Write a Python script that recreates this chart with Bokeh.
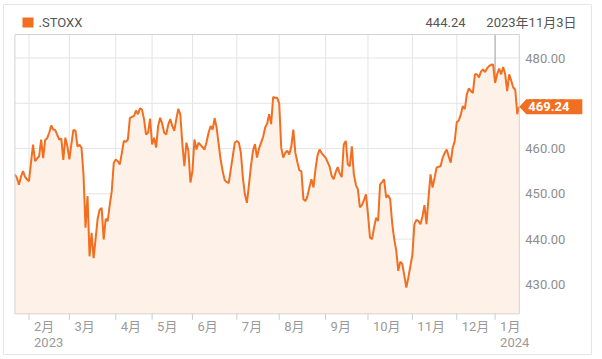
import pandas as pd
from bokeh.plotting import figure
from bokeh.models import ColumnDataSource, Range1d
from bokeh.embed import file_html
from bokeh.resources import INLINE
from bokeh.core.properties import value

# ---------------- data ----------------
symbol = ".STOXX"
hover_value = "444.24"
hover_date = "2023年11月3日"

y_ticks = [430, 440, 450, 460, 470, 480]
y_lo, y_hi = 423.5, 485.2          # visible value range of the chart area

trade_days = {
    "2023-01": [23, 24, 25, 26, 27, 30, 31],
    "2023-02": [1, 2, 3, 6, 7, 8, 9, 10, 13, 14, 15, 16, 17, 20, 21, 22, 23, 24, 27, 28],
    "2023-03": [1, 2, 3, 6, 7, 8, 9, 10, 13, 14, 15, 16, 17, 20, 21, 22, 23, 24, 27, 28, 29, 30, 31],
    "2023-04": [3, 4, 5, 6, 11, 12, 13, 14, 17, 18, 19, 20, 21, 24, 25, 26, 27, 28],
    "2023-05": [2, 3, 4, 5, 8, 9, 10, 11, 12, 15, 16, 17, 19, 22, 23, 24, 25, 26, 30, 31],
    "2023-06": [1, 2, 5, 6, 7, 8, 9, 12, 13, 14, 15, 16, 19, 20, 21, 22, 23, 26, 27, 28, 29, 30],
    "2023-07": [3, 4, 5, 6, 7, 10, 11, 12, 13, 14, 17, 18, 19, 20, 21, 24, 25, 26, 27, 28, 31],
    "2023-08": [1, 2, 3, 4, 7, 8, 9, 10, 11, 14, 15, 16, 17, 18, 21, 22, 23, 24, 25, 28, 29, 30, 31],
    "2023-09": [1, 4, 5, 6, 7, 8, 11, 12, 13, 14, 15, 18, 19, 20, 21, 22, 25, 26, 27, 28, 29],
    "2023-10": [2, 3, 4, 5, 6, 9, 10, 11, 12, 13, 16, 17, 18, 19, 20, 23, 24, 25, 26, 27, 30, 31],
    "2023-11": [1, 2, 3, 6, 7, 8, 9, 10, 13, 14, 15, 16, 17, 20, 21, 22, 23, 24, 27, 28, 29, 30],
    "2023-12": [1, 4, 5, 6, 7, 8, 11, 12, 13, 14, 15, 18, 19, 20, 21, 22, 27, 28, 29],
    "2024-01": [2, 3, 4, 5, 8, 9, 10, 11, 12, 15, 16, 17, 18],
}

closes = {
    "2023-01": [454.3, 453.5, 452.0, 453.8, 455.0, 453.8, 453.2],
    "2023-02": [452.8, 457.0, 460.9, 457.2, 457.8, 458.3, 462.0, 457.9, 461.9, 462.3,
                463.5, 465.1, 464.2, 464.1, 463.0, 462.0, 462.2, 457.5, 462.4, 460.5],
    "2023-03": [457.6, 461.0, 464.1, 464.0, 460.5, 460.8, 460.2, 454.3, 442.5, 449.5,
                436.2, 441.4, 435.8, 440.0, 444.5, 446.5, 446.9, 439.9, 444.5, 444.0,
                447.5, 450.6, 456.8],
    "2023-04": [457.6, 457.2, 456.5, 459.0, 461.7, 461.5, 462.0, 466.8, 467.0, 467.2,
                468.4, 467.6, 468.9, 468.6, 466.5, 463.1, 463.5, 466.6],
    "2023-05": [460.9, 462.4, 460.2, 465.0, 466.8, 465.5, 463.5, 463.1, 465.3, 466.5,
                465.0, 463.9, 466.5, 468.8, 467.5, 461.0, 456.1, 461.3, 459.5, 452.5],
    "2023-06": [455.0, 462.0, 459.8, 461.3, 460.8, 460.3, 459.8, 461.5, 463.5, 465.0,
                464.2, 466.7, 464.6, 460.9, 457.5, 455.0, 453.0, 452.6, 452.4, 455.4,
                458.3, 461.3],
    "2023-07": [461.7, 461.3, 459.1, 453.5, 449.9, 448.0, 452.0, 456.1, 459.5, 461.0,
                458.0, 460.0, 461.3, 462.5, 464.6, 465.5, 467.6, 465.4, 471.4, 471.2,
                471.2],
    "2023-08": [470.0, 460.2, 458.0, 459.1, 459.5, 458.7, 460.5, 464.2, 459.1, 457.0,
                455.2, 455.0, 448.8, 448.4, 449.5, 451.5, 453.2, 451.4, 455.5, 458.5,
                459.8, 459.0, 458.5],
    "2023-09": [458.0, 457.0, 456.0, 454.0, 453.2, 454.8, 455.9, 454.5, 453.7, 460.9,
                461.7, 456.5, 456.1, 460.5, 454.3, 452.0, 451.0, 447.0, 447.5, 448.6,
                449.9],
    "2023-10": [445.5, 440.3, 440.0, 442.5, 444.7, 444.0, 452.1, 452.6, 453.2, 449.2,
                449.7, 448.8, 443.5, 440.0, 437.5, 433.0, 435.0, 434.5, 432.0, 429.3,
                431.5, 434.0],
    "2023-11": [436.5, 443.3, 444.24, 444.0, 443.3, 445.0, 447.5, 443.3, 449.1, 454.3,
                451.4, 453.5, 455.8, 456.0, 456.1, 458.0, 459.0, 459.8, 458.3, 456.9,
                460.2, 461.7],
    "2023-12": [465.8, 466.2, 467.5, 469.4, 468.7, 472.0, 473.3, 472.7, 472.3, 476.4,
                476.4, 475.7, 477.0, 477.5, 476.9, 477.7, 478.2, 478.5, 478.6],
    "2024-01": [474.5, 476.4, 477.7, 476.4, 478.0, 476.4, 472.7, 476.4, 475.0, 473.5,
                473.0, 467.6, 469.24],
}

# ---------------- build series ----------------
dates, vals = [], []
for m in trade_days:
    for d, v in zip(trade_days[m], closes[m]):
        dates.append(pd.Timestamp(f"{m}-{d:02d}"))
        vals.append(v)
n = len(vals)
idx = list(range(n))

month_idx, month_lbl, year_idx, year_lbl = [], [], [], []
for i in range(1, n):
    if dates[i].month != dates[i - 1].month:
        month_idx.append(i)
        month_lbl.append(f"{dates[i].month}月")
        if len(month_idx) == 1 or dates[i].month == 1:
            year_idx.append(i)
            year_lbl.append(str(dates[i].year))
jan_idx = [i for i in range(1, n) if dates[i].year != dates[i - 1].year][0]

# ---------------- layout (pixels) ----------------
W, H = 602, 359
L, R, T, B = 14.4, 518.8, 34.0, 313.3     # chart area in the canvas
ppx = (R - L) / (n - 1)
ppy = (B - T) / (y_hi - y_lo)

def X(px):
    return (px - L) / ppx

def Y(py):
    return y_hi - (py - T) / ppy

ORANGE = "#f26f21"
FILL = "#fdf1e8"
GRID = "#e4e4e4"
FONT = "Roboto, 'Noto Sans CJK JP'"

p = figure(width=W, height=H, x_range=Range1d(X(0), X(W)), y_range=Range1d(Y(H), Y(0)),
           toolbar_location=None, output_backend="svg", x_axis_type=None,
           y_axis_type=None, min_border=0, background_fill_color="white",
           border_fill_color="white")
p.grid.visible = False
p.outline_line_color = None

# card border
p.quad(left=[X(3)], right=[X(591)], top=[Y(4)], bottom=[Y(354)],
       fill_color=None, line_color="#e6e6e6", line_width=1)

# grid
p.segment(x0=month_idx, x1=month_idx, y0=[y_lo] * len(month_idx), y1=[y_hi] * len(month_idx),
          line_color=GRID, line_width=1)
p.segment(x0=[0] * len(y_ticks), x1=[n - 1] * len(y_ticks), y0=y_ticks, y1=y_ticks,
          line_color=GRID, line_width=1)
p.segment(x0=[jan_idx], x1=[jan_idx], y0=[y_lo], y1=[y_hi], line_color="#a6a6a6", line_width=1)

# series
src = ColumnDataSource(dict(x=idx, close=vals, base=[y_lo] * n))
p.varea(x="x", y1="base", y2="close", source=src, fill_color=FILL)
p.line(x="x", y="close", source=src, line_color=ORANGE, line_width=2)

# chart outline
p.quad(left=[0], right=[n - 1], bottom=[y_lo], top=[y_hi], fill_color=None,
       line_color="#d3d3d3", line_width=1)

# x ticks and labels
tick_len = 6 / ppy
p.segment(x0=month_idx, x1=month_idx, y0=[y_lo] * len(month_idx),
          y1=[y_lo - tick_len] * len(month_idx), line_color="#cccccc", line_width=1)
p.text(x=month_idx, y=[Y(325.5)] * len(month_idx), text=month_lbl, x_offset=5,
       text_align="left", text_baseline="middle", text_font=value(FONT),
       text_font_size=value("13px"), text_color="#9a9a9a")
p.text(x=year_idx, y=[Y(341.5)] * len(year_idx), text=year_lbl, x_offset=5,
       text_align="left", text_baseline="middle", text_font=value(FONT),
       text_font_size=value("13px"), text_color="#9a9a9a")

# y labels (right)
p.text(x=[n - 1] * len(y_ticks), y=y_ticks, text=[f"{t:.2f}" for t in y_ticks], x_offset=6,
       text_align="left", text_baseline="middle", text_font=value(FONT),
       text_font_size=value("13px"), text_color="#8e8e8e")

# header
p.quad(left=[X(22)], right=[X(33)], top=[Y(17)], bottom=[Y(27)], fill_color=ORANGE,
       line_color=None)
p.text(x=[X(38)], y=[Y(22)], text=[symbol], text_align="left", text_baseline="middle",
       text_font=value(FONT), text_font_size=value("13px"), text_color="#555555")
p.text(x=[X(465)], y=[Y(22)], text=[hover_value], text_align="right", text_baseline="middle",
       text_font=value(FONT), text_font_size=value("13px"), text_color="#555555")
p.text(x=[X(576)], y=[Y(22)], text=[hover_date], text_align="right", text_baseline="middle",
       text_font=value(FONT), text_font_size=value("13px"), text_color="#555555")

# last value callout
last = vals[-1]
dy = 7.5 / ppy
p.patch(x=[n - 1, X(R + 7), X(R + 63), X(R + 63), X(R + 7)],
        y=[last, last + dy, last + dy, last - dy, last - dy],
        fill_color=ORANGE, line_color=None)
p.text(x=[n - 1], y=[last], text=[f"{last:.2f}"], x_offset=9, text_align="left",
       text_baseline="middle", text_font=value(FONT), text_font_size=value("13px"),
       text_font_style="bold", text_color="white")

open("out.html", "w").write(file_html(p, INLINE))
